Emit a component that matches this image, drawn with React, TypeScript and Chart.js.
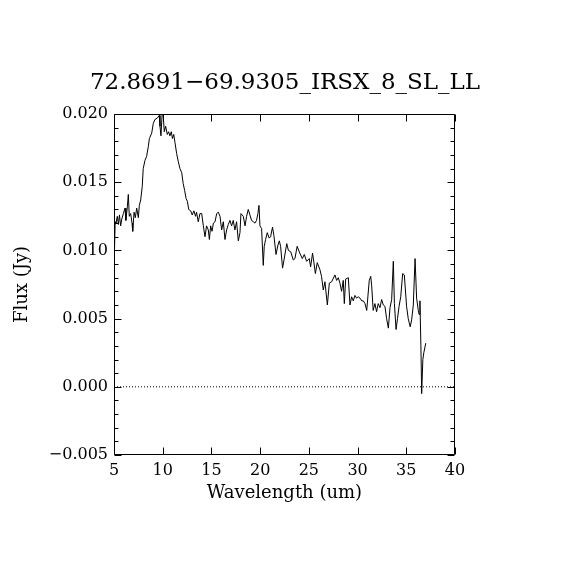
import { useEffect, useRef } from 'react';
import { Chart, registerables } from 'chart.js';

Chart.register(...registerables);

const TITLE = '72.8691\u221269.9305_IRSX_8_SL_LL';
const X_LABEL = 'Wavelength (um)';
const Y_LABEL = 'Flux (Jy)';

const wavelength = [
  5.05, 5.12, 5.2, 5.34, 5.45, 5.56, 5.68, 5.8, 5.96, 6.13,
  6.22, 6.37, 6.47, 6.57, 6.71, 6.85, 6.92, 7.06, 7.19, 7.33,
  7.5, 7.6, 7.74, 7.9, 8.0, 8.18, 8.35, 8.52, 8.63, 8.87,
  9.03, 9.2, 9.45, 9.65, 9.72, 9.82, 9.93, 10.06, 10.16, 10.3,
  10.47, 10.6, 10.74, 10.88, 11.0, 11.13, 11.26, 11.43, 11.6, 11.77,
  11.95, 12.1, 12.25, 12.4, 12.53, 12.67, 12.87, 13.03, 13.2, 13.37,
  13.47, 13.65, 13.82, 14.0, 14.17, 14.34, 14.5, 14.68, 14.79, 14.92,
  15.06, 15.2, 15.37, 15.54, 15.71, 15.88, 16.05, 16.22, 16.39, 16.56,
  16.73, 16.9, 17.07, 17.24, 17.41, 17.58, 17.76, 17.93, 18.03, 18.27,
  18.45, 18.61, 18.78, 18.95, 19.12, 19.3, 19.47, 19.63, 19.77, 19.88,
  19.98, 20.15, 20.32, 20.42, 20.56, 20.73, 20.93, 21.07, 21.27, 21.41,
  21.63, 21.83, 21.97, 22.1, 22.3, 22.45, 22.73, 22.9, 23.14, 23.4,
  23.57, 23.8, 24.07, 24.33, 24.53, 24.77, 25.04, 25.18, 25.38, 25.52,
  25.67, 25.86, 26.13, 26.3, 26.48, 26.65, 26.9, 27.1, 27.34, 27.68,
  27.85, 28.02, 28.19, 28.36, 28.53, 28.64, 28.78, 29.05, 29.22, 29.39,
  29.56, 29.73, 29.9, 30.07, 30.25, 30.42, 30.59, 30.76, 30.94, 31.2,
  31.35, 31.45, 31.6, 31.78, 31.95, 32.12, 32.3, 32.47, 32.64, 32.81,
  32.98, 33.16, 33.33, 33.5, 33.67, 33.78, 33.95, 34.1, 34.26, 34.43,
  34.63, 34.8, 35.03, 35.2, 35.4, 35.55, 35.72, 35.9, 36.06, 36.23,
  36.32, 36.4, 36.5, 36.58, 36.7, 36.8, 37.0,
];

const flux = [
  0.0100, 0.0121, 0.0120, 0.0125, 0.0119, 0.0126, 0.0118, 0.0123, 0.0127, 0.0131,
  0.0122, 0.0132, 0.0141, 0.0125, 0.0127, 0.0120, 0.0114, 0.0128, 0.0124, 0.0131,
  0.0124, 0.0133, 0.0137, 0.0147, 0.0160, 0.0166, 0.0169, 0.0176, 0.0182, 0.0186,
  0.0193, 0.0196, 0.0197, 0.0199, 0.0191, 0.0184, 0.0199, 0.0198, 0.0187, 0.0191,
  0.0185, 0.0187, 0.0184, 0.0187, 0.0182, 0.0185, 0.0179, 0.0171, 0.0165, 0.0160,
  0.0157, 0.0149, 0.0144, 0.0138, 0.0136, 0.0130, 0.0129, 0.0126, 0.0129, 0.0125,
  0.0128, 0.0121, 0.0127, 0.0127, 0.0118, 0.0110, 0.0118, 0.0115, 0.0108, 0.0118,
  0.0114, 0.0120, 0.0121, 0.0127, 0.0128, 0.0125, 0.0115, 0.0121, 0.0108, 0.0115,
  0.0119, 0.0122, 0.0118, 0.0122, 0.0115, 0.0121, 0.0107, 0.0113, 0.0127, 0.0125,
  0.0118, 0.0125, 0.0130, 0.0126, 0.0122, 0.0121, 0.0120, 0.0122, 0.0127, 0.0133,
  0.0118, 0.0116, 0.0089, 0.0103, 0.0108, 0.0113, 0.0109, 0.0110, 0.0117, 0.0111,
  0.0097, 0.0104, 0.0107, 0.0103, 0.0087, 0.0093, 0.0105, 0.0100, 0.0099, 0.0093,
  0.0094, 0.0103, 0.0098, 0.0094, 0.0097, 0.0092, 0.0094, 0.0088, 0.0098, 0.0091,
  0.0083, 0.0091, 0.0086, 0.0081, 0.0071, 0.0077, 0.0060, 0.0076, 0.0077, 0.0082,
  0.0078, 0.0080, 0.0076, 0.0070, 0.0078, 0.0061, 0.0079, 0.0080, 0.0060, 0.0066,
  0.0063, 0.0067, 0.0065, 0.0066, 0.0065, 0.0063, 0.0063, 0.0061, 0.0056, 0.0078,
  0.0081, 0.0074, 0.0056, 0.0061, 0.0055, 0.0061, 0.0058, 0.0064, 0.0060, 0.0059,
  0.0050, 0.0043, 0.0058, 0.0064, 0.0092, 0.0061, 0.0042, 0.0050, 0.0059, 0.0066,
  0.0083, 0.0082, 0.0059, 0.0050, 0.0044, 0.0049, 0.0060, 0.0094, 0.0065, 0.0056,
  0.0053, 0.0063, 0.0030, -0.0005, 0.0020, 0.0025, 0.0032,
];

const X_MIN = 5;
const X_MAX = 40;
const X_STEP = 5;
const Y_MIN = -0.005;
const Y_MAX = 0.02;
const Y_STEP = 0.005;
const Y_MINOR_STEP = 0.001;
const zeroLineX = [X_MIN, X_MAX];
const zeroLineY = [0, 0];

const FONT = "'DejaVu Serif', serif";

const frameTicks = {
  id: 'frameTicks',
  afterDraw(chart: any) {
    const { ctx, chartArea: a, scales } = chart;
    const xs = scales.x;
    const ys = scales.y;
    const L = Math.round(a.left) + 0.5;
    const R = Math.round(a.right) - 0.5;
    const T = Math.round(a.top) + 0.5;
    const B = Math.round(a.bottom) - 0.5;
    ctx.save();
    ctx.strokeStyle = '#000';
    ctx.lineWidth = 1;
    ctx.beginPath();
    ctx.rect(L, T, R - L, B - T);
    for (let v = X_MIN; v <= X_MAX + 1e-9; v += X_STEP) {
      const px = Math.round(xs.getPixelForValue(v)) + 0.5;
      ctx.moveTo(px, B);
      ctx.lineTo(px, B - 7);
      ctx.moveTo(px, T);
      ctx.lineTo(px, T + 7);
    }
    const n = Math.round((Y_MAX - Y_MIN) / Y_MINOR_STEP);
    const per = Math.round(Y_STEP / Y_MINOR_STEP);
    for (let i = 0; i <= n; i++) {
      const v = Y_MIN + i * Y_MINOR_STEP;
      const py = Math.round(ys.getPixelForValue(v)) + 0.5;
      const len = i % per === 0 ? 7 : 4;
      ctx.moveTo(L, py);
      ctx.lineTo(L + len, py);
      ctx.moveTo(R, py);
      ctx.lineTo(R - len, py);
    }
    ctx.stroke();
    ctx.restore();
  },
};

export default function App() {
  const ref = useRef<HTMLCanvasElement | null>(null);

  useEffect(() => {
    document.body.style.margin = '0';
    Chart.defaults.font.family = FONT;
    Chart.defaults.color = '#000';
    const spectrum = wavelength.map((w, i) => ({ x: w, y: flux[i] }));
    const zero = zeroLineX.map((w, i) => ({ x: w, y: zeroLineY[i] }));
    const chart = new Chart(ref.current as HTMLCanvasElement, {
      type: 'line',
      data: {
        datasets: [
          {
            data: zero,
            borderColor: '#000',
            borderWidth: 1,
            borderDash: [1, 2],
            pointRadius: 0,
            fill: false,
          },
          {
            data: spectrum,
            borderColor: '#000',
            borderWidth: 1,
            pointRadius: 0,
            tension: 0,
            fill: false,
          },
        ],
      },
      options: {
        animation: false,
        responsive: false,
        devicePixelRatio: 1,
        layout: { padding: 0 },
        plugins: {
          legend: { display: false },
          tooltip: { enabled: false },
          title: {
            display: true,
            text: TITLE,
            color: '#000',
            font: { family: FONT, size: 23, weight: 'normal' },
            padding: { top: 69.2, bottom: 17.2 },
          },
        },
        scales: {
          x: {
            type: 'linear',
            min: X_MIN,
            max: X_MAX,
            afterFit: (s: any) => {
              s.height = 115;
            },
            grid: { display: false, drawTicks: false },
            border: { display: false },
            ticks: {
              stepSize: X_STEP,
              color: '#000',
              font: { family: FONT, size: 16 },
              padding: 6,
              maxRotation: 0,
              autoSkip: false,
            },
            title: {
              display: true,
              text: X_LABEL,
              color: '#000',
              font: { family: FONT, size: 18 },
              padding: { top: 0, bottom: 66 },
            },
          },
          y: {
            type: 'linear',
            min: Y_MIN,
            max: Y_MAX,
            afterFit: (s: any) => {
              s.width = 114;
            },
            grid: { display: false, drawTicks: false },
            border: { display: false },
            ticks: {
              stepSize: Y_STEP,
              color: '#000',
              font: { family: FONT, size: 16 },
              padding: 6,
              callback: (v: any) => (v < -1e-9 ? '\u2212' : '') + Math.abs(Number(v)).toFixed(3),
            },
            title: {
              display: true,
              text: Y_LABEL,
              color: '#000',
              font: { family: FONT, size: 18 },
              padding: { top: 12, bottom: 0 },
            },
          },
          y2: {
            type: 'linear',
            position: 'right',
            display: true,
            afterFit: (s: any) => {
              s.width = 115;
            },
            grid: { display: false, drawTicks: false },
            border: { display: false },
            ticks: { display: false },
          },
        },
      } as any,
      plugins: [frameTicks],
    });
    return () => chart.destroy();
  }, []);

  return <canvas ref={ref} width={570} height={570} style={{ display: 'block', width: 570, height: 570 }} />;
}
